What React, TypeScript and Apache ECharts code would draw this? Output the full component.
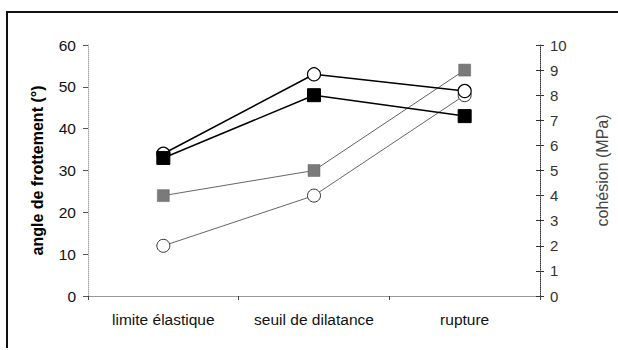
import React, { useEffect, useRef } from "react";
import * as echarts from "echarts";

const categories = ["limite élastique", "seuil de dilatance", "rupture"];
const angleCircle = [34, 53, 49];
const angleSquare = [33, 48, 43];
const cohesionSquare = [4, 5, 9];
const cohesionCircle = [2, 4, 8];
const leftName = "angle de frottement (°)";
const rightName = "cohésion (MPa)";

export default function App() {
  const ref = useRef<HTMLDivElement>(null);
  useEffect(() => {
    if (!ref.current) return;
    const chart = echarts.init(ref.current, undefined, { renderer: "svg" });
    const font = "Arial, 'Liberation Sans', sans-serif";
    chart.setOption({
      animation: false,
      backgroundColor: "#fff",
      textStyle: { fontFamily: font },
      grid: { left: 88, right: 75, top: 45, bottom: 54 },
      xAxis: {
        type: "category",
        data: categories,
        boundaryGap: true,
        axisLine: { lineStyle: { color: "#999", width: 1 } },
        axisTick: { show: true, length: 4, lineStyle: { color: "#444" }, inside: false },
        axisLabel: { color: "#111", fontSize: 15.5, margin: 15, interval: 0, fontFamily: font },
        splitLine: { show: false },
      },
      yAxis: [
        {
          type: "value",
          min: 0,
          max: 60,
          interval: 10,
          position: "left",
          name: leftName,
          nameLocation: "middle",
          nameRotate: 90,
          nameGap: 43,
          nameTextStyle: { color: "#000", fontSize: 16, fontWeight: "bold", fontFamily: font },
          axisLine: { show: true, lineStyle: { color: "#aaa", type: "dotted", width: 1 } },
          axisTick: { show: true, length: 5, lineStyle: { color: "#555" } },
          axisLabel: { color: "#111", fontSize: 15.5, margin: 12, fontFamily: font },
          splitLine: { show: false },
        },
        {
          type: "value",
          min: 0,
          max: 10,
          interval: 1,
          position: "right",
          name: rightName,
          nameLocation: "middle",
          nameRotate: 90,
          nameGap: 54,
          nameTextStyle: { color: "#444", fontSize: 16, fontFamily: font },
          axisLine: { show: true, lineStyle: { color: "#333", type: "dotted", width: 1 } },
          axisTick: { show: true, length: 4, lineStyle: { color: "#333" } },
          axisLabel: { color: "#333", fontSize: 15, margin: 10, fontFamily: font },
          splitLine: { show: false },
        },
        {
          type: "value",
          min: 0,
          max: 10,
          interval: 1,
          position: "right",
          axisLine: { show: false },
          axisTick: { show: true, inside: true, length: 4, lineStyle: { color: "#333" } },
          axisLabel: { show: false },
          splitLine: { show: false },
        },
      ],
      graphic: [
        { type: "line", silent: true, shape: { x1: 6, y1: 12, x2: 618, y2: 12 }, style: { stroke: "#111", lineWidth: 2 } },
        { type: "line", silent: true, shape: { x1: 7, y1: 12, x2: 7, y2: 348 }, style: { stroke: "#111", lineWidth: 2 } },
      ],
      series: [
        {
          type: "line",
          yAxisIndex: 0,
          data: angleCircle,
          symbol: "circle",
          symbolSize: 13,
          lineStyle: { color: "#000", width: 1.5 },
          itemStyle: { color: "#fff", borderColor: "#000", borderWidth: 1.2 },
          z: 3,
        },
        {
          type: "line",
          yAxisIndex: 0,
          data: angleSquare,
          symbol: "rect",
          symbolSize: 13,
          lineStyle: { color: "#000", width: 1.5 },
          itemStyle: { color: "#000", borderColor: "#000" },
          z: 4,
        },
        {
          type: "line",
          yAxisIndex: 1,
          data: cohesionSquare,
          symbol: "rect",
          symbolSize: 12,
          lineStyle: { color: "#666", width: 1 },
          itemStyle: { color: "#7a7a7a", borderColor: "#666", borderWidth: 0.5 },
          z: 2,
        },
        {
          type: "line",
          yAxisIndex: 1,
          data: cohesionCircle,
          symbol: "circle",
          symbolSize: 13,
          lineStyle: { color: "#666", width: 1 },
          itemStyle: { color: "#fff", borderColor: "#333", borderWidth: 1 },
          z: 2,
        },
      ],
    });
    return () => chart.dispose();
  }, []);
  return <div ref={ref} style={{ width: 618, height: 350, position: "absolute", left: 0, top: 0 }} />;
}
